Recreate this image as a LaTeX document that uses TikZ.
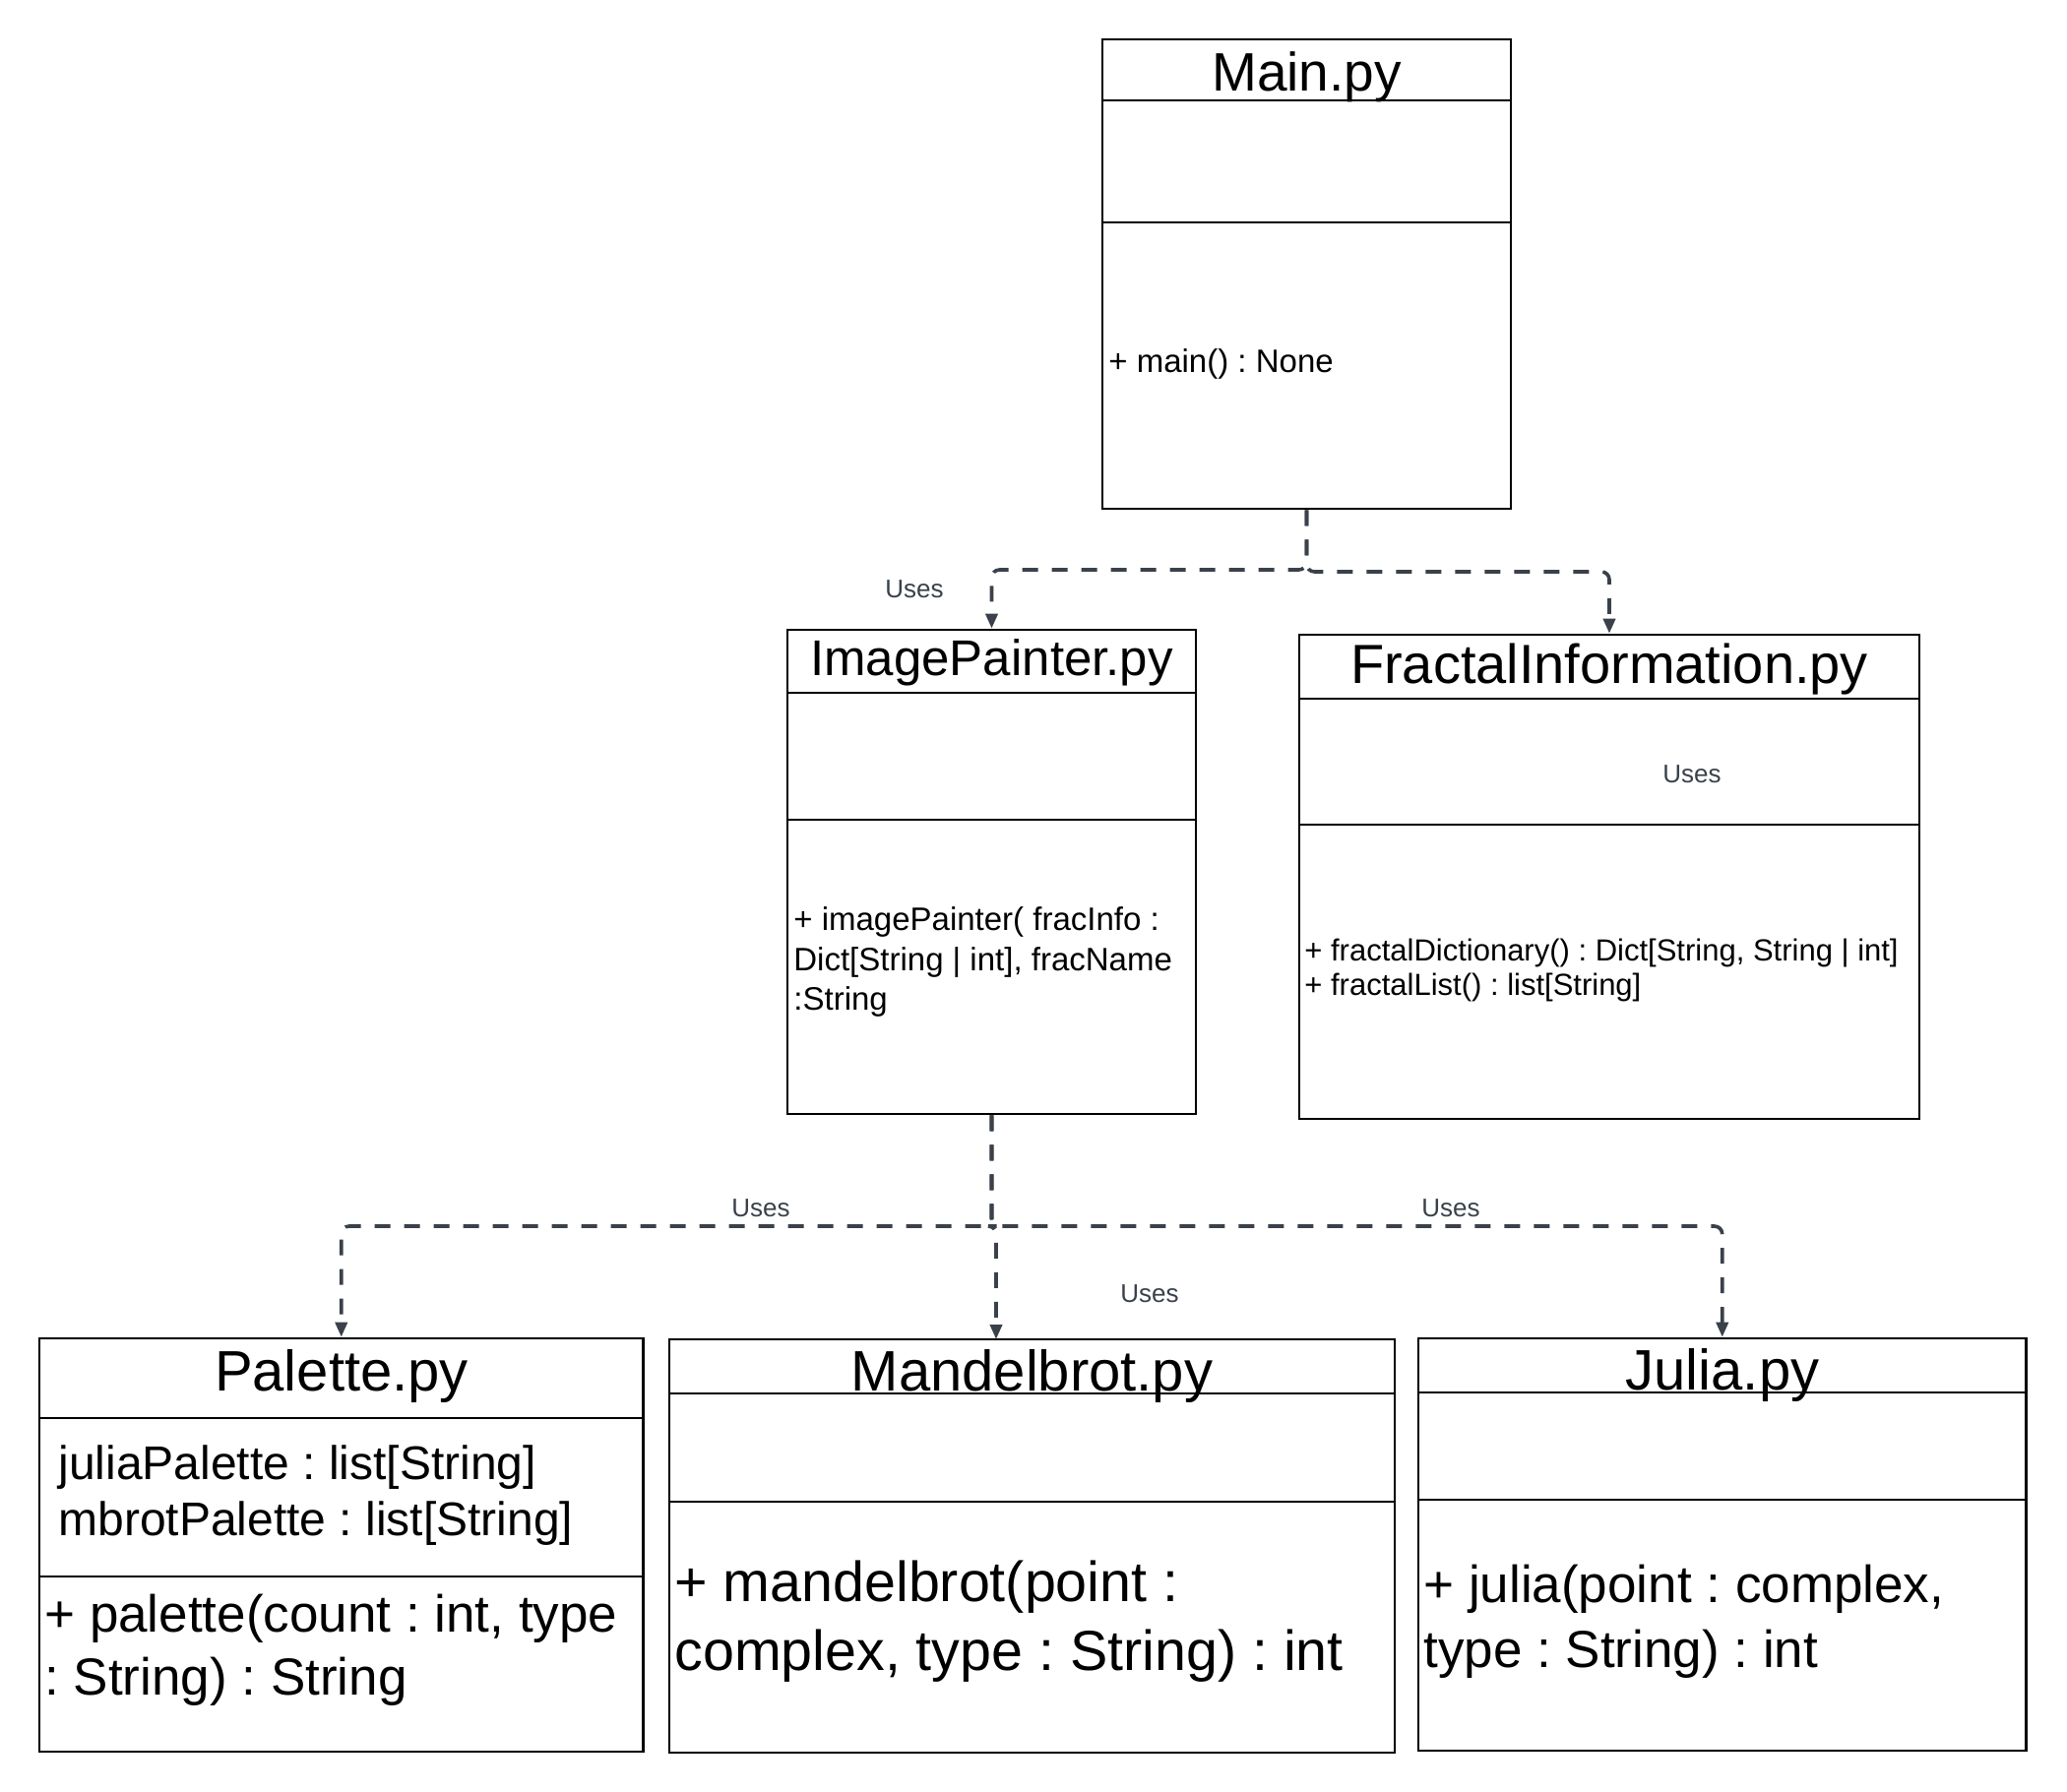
\documentclass[tikz,border=0pt]{standalone}
\usepackage{fontspec}
\setmainfont{Liberation Sans}
\usetikzlibrary{arrows.meta,fit}
\definecolor{conn}{HTML}{3A414A}
\newcommand{\fsz}[1]{\fontsize{#1}{#1}\selectfont}
\frenchspacing
\begin{document}
\begin{tikzpicture}[x=0.5pt,y=-0.5pt,
  box/.style={draw=black, line width=1.3pt, inner sep=0pt},
  divider/.style={draw=black, line width=1.3pt},
  uses/.style={draw=conn, line width=1.8pt, dash pattern=on 8pt off 7pt, rounded corners=4pt, -{Triangle[length=7.5pt,width=6pt]}},
  usestxt/.style={anchor=base west, inner sep=0pt, text=conn, font=\fsz{13}},
  title/.style={anchor=base, inner sep=0pt},
  txt/.style={anchor=base west, inner sep=0pt},
]
\useasboundingbox[fill=white] (0,0) rectangle (2100,1821);

% ---------- Main.py ----------
\node[box, fit={(1120,40) (1535,517)}] (main) {};
\draw[divider] (1120,102) -- (1535,102);
\draw[divider] (1120,226) -- (1535,226);
\node[title, font=\fsz{27.5}] (maint) at (1327.5,92) {Main.py};
\node[txt, font=\fsz{16.5}] (mainop) at (1126,378) {+ main() : None};

% ---------- ImagePainter.py ----------
\node[box, fit={(800,640) (1215,1132)}] (ip) {};
\draw[divider] (800,704) -- (1215,704);
\draw[divider] (800,833) -- (1215,833);
\node[title, font=\fsz{25.5}] (ipt) at (1007.5,686) {ImagePainter.py};
\node[txt, font=\fsz{16.5}] (ipop1) at (806,945) {+ imagePainter( fracInfo :};
\node[txt, font=\fsz{16.5}] (ipop2) at (806,986) {Dict[String | int], fracName};
\node[txt, font=\fsz{16.5}] (ipop3) at (806,1026) {:String};

% ---------- FractalInformation.py ----------
\node[box, fit={(1320,645) (1950,1137)}] (fi) {};
\draw[divider] (1320,710) -- (1950,710);
\draw[divider] (1320,838) -- (1950,838);
\node[title, font=\fsz{28}] (fit) at (1635,694) {FractalInformation.py};
\node[txt, font=\fsz{15.5}] (fiop1) at (1325,976) {+ fractalDictionary() : Dict[String, String | int]};
\node[txt, font=\fsz{15.5}] (fiop2) at (1325,1011) {+ fractalList() : list[String]};

% ---------- Palette.py ----------
\node[box, fit={(40,1360) (653.5,1780)}] (pal) {};
\draw[divider] (40,1441) -- (653.5,1441);
\draw[divider] (40,1602) -- (653.5,1602);
\node[title, font=\fsz{29}] (palt) at (347,1413) {Palette.py};
\node[txt, font=\fsz{24}] (pala1) at (59,1503) {juliaPalette : list[String]};
\node[txt, font=\fsz{24}] (pala2) at (59,1560) {mbrotPalette : list[String]};
\node[txt, font=\fsz{26.5}] (palop1) at (45,1658) {+ palette(count : int, type};
\node[txt, font=\fsz{26.5}] (palop2) at (45,1722) {: String) : String};

% ---------- Mandelbrot.py ----------
\node[box, fit={(680,1361) (1417,1781)}] (mb) {};
\draw[divider] (680,1416) -- (1417,1416);
\draw[divider] (680,1526) -- (1417,1526);
\node[title, font=\fsz{29}] (mbt) at (1048.5,1413) {Mandelbrot.py};
\node[txt, font=\fsz{28.7}] (mbop1) at (685,1627) {+ mandelbrot(point :};
\node[txt, font=\fsz{28.7}] (mbop2) at (685,1697) {complex, type : String) : int};

% ---------- Julia.py ----------
\node[box, fit={(1441,1360) (2058.5,1779)}] (ju) {};
\draw[divider] (1441,1415) -- (2058.5,1415);
\draw[divider] (1441,1524) -- (2058.5,1524);
\node[title, font=\fsz{29}] (jut) at (1750,1412) {Julia.py};
\node[txt, font=\fsz{26.5}] (juop1) at (1446,1628) {+ julia(point : complex,};
\node[txt, font=\fsz{26.5}] (juop2) at (1446,1694) {type : String) : int};

% ---------- connectors ----------
\coordinate (j1) at (1327.5,579);
\coordinate (j2) at (1327.5,581);
\coordinate (k1) at (1007.5,1246);
\coordinate (mbin) at (1012,1361);
\draw[uses] (main.south) -- (j1) -| (ip.north);
\draw[uses] (main.south) -- (j2) -| (fi.north);
\draw[uses] (ip.south) -- (k1) -| (pal.north);
\draw[uses] (ip.south) -- (k1) -| (mbin);
\draw[uses] (ip.south) -- (k1) -| (ju.north);

% ---------- labels ----------
\node[usestxt] (u1) at (899,607) {Uses};
\node[usestxt] (u2) at (1689,795) {Uses};
\node[usestxt] (u3) at (743,1236) {Uses};
\node[usestxt] (u4) at (1444,1236) {Uses};
\node[usestxt] (u5) at (1138,1323) {Uses};
\end{tikzpicture}
\end{document}
